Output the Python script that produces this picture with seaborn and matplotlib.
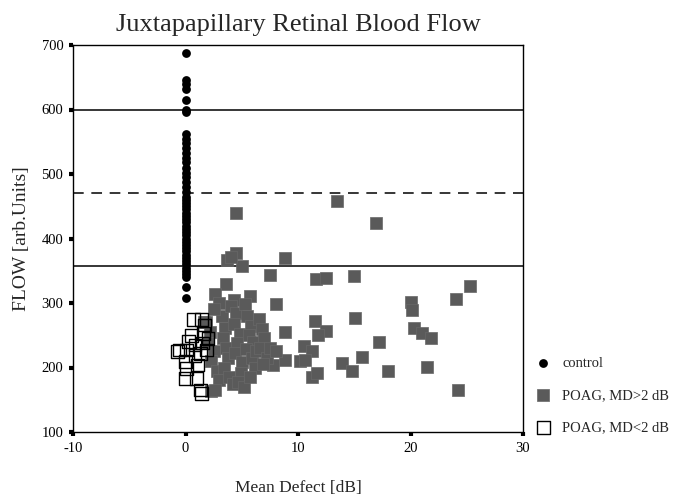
import numpy as np
import pandas as pd
import matplotlib
matplotlib.use("Agg")
import matplotlib.pyplot as plt
import seaborn as sns

# control eyes (all at MD = 0)
control_flow = [688, 646, 640, 632, 615, 600, 596,
                562, 555, 548, 540, 532, 525, 518, 510, 502, 495, 488, 480,
                472, 465, 460, 455, 450, 445, 440, 435, 430, 425, 420, 415,
                410, 405, 400, 395, 390, 385, 380, 375, 370, 365, 360, 355,
                350, 345, 340, 325, 308]
control_md = [0] * len(control_flow)

# POAG, MD > 2 dB
poag_hi_md = [4.5, 13.5, 16.9, 4.5, 3.7, 5.0, 8.8, 7.5, 11.6, 12.5, 15.0,
              3.6, 2.6, 4.3, 5.7, 8.0, 11.5, 15.1, 25.3, 24.0, 20.0, 20.1,
              20.3, 12.5, 11.8, 21.0, 21.8, 17.2, 10.5, 11.2, 10.2, 15.7,
              13.9, 14.8, 18.0, 21.5, 11.2, 11.7, 24.2, 2.3, 8.8, 10.6, 8.8,
              7.8, 4.0, 1.6,
              1.8, 2.2, 2.0, 2.5, 2.3, 2.8, 3.0, 2.6,
              3.2, 3.5, 3.3, 3.6, 3.8, 3.4, 3.9, 4.2,
              4.0, 4.5, 4.3, 4.8, 4.6, 4.4, 5.0, 4.9, 4.7, 5.2,
              5.3, 5.5, 5.8, 5.6, 6.0, 5.4, 5.9, 6.2, 5.7, 6.3,
              6.5, 6.8, 7.0, 6.6, 7.2, 6.9, 7.5, 8.0, 3.0, 2.5]
poag_hi_flow = [439, 458, 424, 377, 367, 357, 370, 344, 337, 338, 342,
                329, 314, 304, 311, 298, 272, 276, 327, 306, 301, 289,
                261, 257, 250, 253, 246, 239, 234, 226, 210, 217,
                207, 195, 195, 201, 186, 191, 165, 163, 255, 212, 212,
                204, 372, 271,
                270, 255, 238, 225, 210, 195, 180, 165,
                280, 262, 245, 230, 215, 200, 185, 175,
                295, 285, 268, 252, 238, 222, 208, 192, 178, 170,
                298, 280, 265, 250, 240, 228, 215, 200, 185, 225,
                275, 260, 245, 230, 215, 205, 230, 225, 300, 290]

# POAG, MD < 2 dB
poag_lo_md = [0.7, 1.4, 1.7, 0.55, 1.6, 2.0, -0.5, 0.1, 0.84, 0.84, 1.3,
              1.9, 0.0, 1.1, 0.1, 0.0, 1.0, 1.3, 1.4, -0.7, 0.3, 1.5]
poag_lo_flow = [274, 274, 266, 250, 253, 245, 227, 227, 235, 219, 222,
                227, 209, 204, 199, 183, 183, 165, 160, 225, 240, 238]

df_ctrl = pd.DataFrame({"md": control_md, "flow": control_flow})
df_hi = pd.DataFrame({"md": poag_hi_md, "flow": poag_hi_flow})
df_lo = pd.DataFrame({"md": poag_lo_md, "flow": poag_lo_flow})

sns.set_style("white")
plt.rcParams["font.family"] = ["Liberation Serif", "DejaVu Serif"]

fig = plt.figure(figsize=(6.8, 4.97), dpi=100)
ax = fig.add_axes([73 / 680, 1 - 432 / 497, 450 / 680, 387 / 497])

# reference lines
ax.axhline(600, color="black", lw=1.1, zorder=1)
ax.axhline(357, color="black", lw=1.1, zorder=1)
ax.axhline(471, color="black", lw=1.1, ls=(0, (7, 5)), zorder=1)

sns.scatterplot(data=df_hi, x="md", y="flow", marker="s", s=85,
                color="#5a5a5a", edgecolor="#686868", linewidth=0.5,
                label="POAG, MD>2 dB", ax=ax, zorder=2)
sns.scatterplot(data=df_lo, x="md", y="flow", marker="s", s=85,
                facecolor="none", edgecolor="black", linewidth=1.0,
                label="POAG, MD<2 dB", ax=ax, zorder=3)
sns.scatterplot(data=df_ctrl, x="md", y="flow", marker="o", s=40,
                color="black", edgecolor="black", linewidth=0,
                label="control", ax=ax, zorder=4)

ax.set_xlim(-10, 30)
ax.set_ylim(100, 700)
ax.set_xticks([-10, 0, 10, 20, 30])
ax.set_yticks([100, 200, 300, 400, 500, 600, 700])
ax.set_xticklabels(["-10", "0", "10", "20", "30"])
ax.tick_params(axis="both", bottom=True, left=True, direction="out",
               length=3, width=3, labelsize=10.5, pad=4,
               color="black", labelcolor="black")
for sp in ax.spines.values():
    sp.set_color("black")
    sp.set_linewidth(1.0)

ax.set_xlabel("Mean Defect [dB]", fontsize=12.5, labelpad=18)
ax.set_ylabel("FLOW [arb.Units]", fontsize=14, labelpad=8)
ax.set_title("Juxtapapillary Retinal Blood Flow", fontsize=19, pad=10)

handles, labels = ax.get_legend_handles_labels()
order = [labels.index("control"), labels.index("POAG, MD>2 dB"),
         labels.index("POAG, MD<2 dB")]
ax.legend([handles[i] for i in order], [labels[i] for i in order],
          loc="upper left", bbox_to_anchor=(1.0, 0.21), frameon=False,
          fontsize=10.5, labelspacing=1.3, handletextpad=0.3, borderaxespad=0)

fig.savefig("out.png", dpi=100)
